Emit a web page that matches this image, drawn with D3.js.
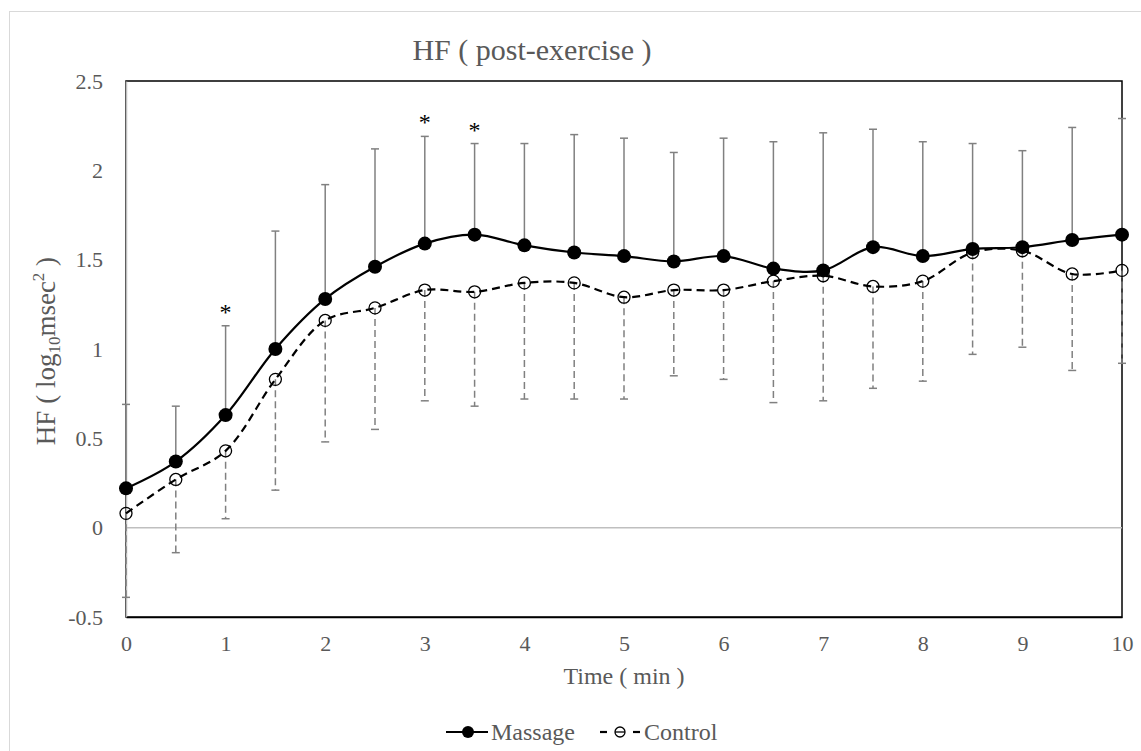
<!DOCTYPE html>
<html>
<head>
<meta charset="utf-8">
<script src="https://cdn.jsdelivr.net/npm/d3@7"></script>
<style>
  body { margin: 0; background: #fff; }
  text { font-family: "Liberation Serif", "DejaVu Serif", serif; }
</style>
</head>
<body>
<svg id="chart"></svg>
<script>
// time points (min)
var times = [0, 0.5, 1, 1.5, 2, 2.5, 3, 3.5, 4, 4.5, 5, 5.5, 6, 6.5, 7, 7.5, 8, 8.5, 9, 9.5, 10]

// Massage mean and mean + SD
var massage = [0.22, 0.37, 0.63, 1.00, 1.28, 1.46, 1.59, 1.64, 1.58, 1.54, 1.52, 1.49, 1.52, 1.45, 1.44, 1.57, 1.52, 1.56, 1.57, 1.61, 1.64]
var massageUpper = [0.69, 0.68, 1.13, 1.66, 1.92, 2.12, 2.19, 2.15, 2.15, 2.20, 2.18, 2.10, 2.18, 2.16, 2.21, 2.23, 2.16, 2.15, 2.11, 2.24, 2.29]

// Control mean and mean - SD
var control = [0.08, 0.27, 0.43, 0.83, 1.16, 1.23, 1.33, 1.32, 1.37, 1.37, 1.29, 1.33, 1.33, 1.38, 1.41, 1.35, 1.38, 1.54, 1.55, 1.42, 1.44]
var controlLower = [-0.39, -0.14, 0.05, 0.21, 0.48, 0.55, 0.71, 0.68, 0.72, 0.72, 0.72, 0.85, 0.83, 0.70, 0.71, 0.78, 0.82, 0.97, 1.01, 0.88, 0.92]

// significance marks
var starTimes = [1, 3, 3.5]

var xTicks = [0, 1, 2, 3, 4, 5, 6, 7, 8, 9, 10]
var yTicks = [-0.5, 0, 0.5, 1, 1.5, 2, 2.5]

var width = 1141,
    height = 751,
    textGray = "#595959",
    barGray = "#808080"

var svg = d3.select("#chart")
  .attr("width", width)
  .attr("height", height)

var x = d3.scaleLinear().domain([0, 10]).range([126, 1122])
var y = d3.scaleLinear().domain([-0.5, 2.5]).range([617, 81])

// outer chart border
svg.append("rect")
  .attr("x", 9.5).attr("y", 11.5)
  .attr("width", width).attr("height", height)
  .attr("fill", "none")
  .attr("stroke", "#d9d9d9")

// title
svg.append("text")
  .attr("x", 532).attr("y", 60)
  .attr("text-anchor", "middle")
  .attr("font-size", 30)
  .attr("fill", textGray)
  .text("HF ( post-exercise )")

// plot frame
svg.append("rect")
  .attr("x", x(0)).attr("y", y(2.5))
  .attr("width", x(10) - x(0)).attr("height", y(-0.5) - y(2.5))
  .attr("fill", "none")
  .attr("stroke", "#000")
  .attr("stroke-width", 1.5)

// zero line
svg.append("line")
  .attr("x1", x(0)).attr("x2", x(10))
  .attr("y1", y(0)).attr("y2", y(0))
  .attr("stroke", "#bfbfbf")
  .attr("stroke-width", 1.5)

// axes
var yAxis = svg.append("g")
  .attr("transform", `translate(${x(0)},0)`)
  .call(d3.axisLeft(y).tickValues(yTicks).tickSize(0).tickPadding(23).tickFormat(d => String(d)))
yAxis.select(".domain").attr("stroke", "#bfbfbf").attr("stroke-width", 1.5)

var xAxis = svg.append("g")
  .attr("transform", `translate(0,${y(-0.5)})`)
  .call(d3.axisBottom(x).tickValues(xTicks).tickSize(0).tickPadding(18))
xAxis.select(".domain").attr("stroke", "#000").attr("stroke-width", 1.5)

svg.selectAll("g").attr("font-family", null)
svg.selectAll(".tick text")
  .attr("font-size", 22)
  .attr("fill", textGray)

// axis titles
svg.append("text")
  .attr("x", 624).attr("y", 684)
  .attr("text-anchor", "middle")
  .attr("font-size", 24)
  .attr("fill", textGray)
  .text("Time ( min )")

var yTitle = svg.append("text")
  .attr("transform", "translate(55,351) rotate(-90)")
  .attr("text-anchor", "middle")
  .attr("font-size", 27)
  .attr("fill", textGray)
yTitle.append("tspan").text("HF ( log")
yTitle.append("tspan").attr("font-size", 17).attr("dy", 5).text("10")
yTitle.append("tspan").attr("dy", -5).text("msec")
yTitle.append("tspan").attr("font-size", 17).attr("dy", -11).text("2")
yTitle.append("tspan").attr("dy", 11).text(" )")

var plot = svg.append("g")

// error bars
var mBars = plot.selectAll(".mbar").data(times).enter().append("g").attr("class", "mbar")
mBars.append("line")
  .attr("x1", d => x(d)).attr("x2", d => x(d))
  .attr("y1", (d, i) => y(massage[i])).attr("y2", (d, i) => y(massageUpper[i]))
  .attr("stroke", barGray).attr("stroke-width", 1.5)
mBars.append("line")
  .attr("x1", d => x(d) - 4).attr("x2", d => x(d) + 4)
  .attr("y1", (d, i) => y(massageUpper[i])).attr("y2", (d, i) => y(massageUpper[i]))
  .attr("stroke", barGray).attr("stroke-width", 1.5)

var cBars = plot.selectAll(".cbar").data(times).enter().append("g").attr("class", "cbar")
cBars.append("line")
  .attr("x1", d => x(d)).attr("x2", d => x(d))
  .attr("y1", (d, i) => y(control[i])).attr("y2", (d, i) => y(controlLower[i]))
  .attr("stroke", barGray).attr("stroke-width", 1.5)
  .attr("stroke-dasharray", "7,4")
cBars.append("line")
  .attr("x1", d => x(d) - 4).attr("x2", d => x(d) + 4)
  .attr("y1", (d, i) => y(controlLower[i])).attr("y2", (d, i) => y(controlLower[i]))
  .attr("stroke", barGray).attr("stroke-width", 1.5)

// lines
var line = d3.line()
  .x(d => x(d[0]))
  .y(d => y(d[1]))
  .curve(d3.curveCatmullRom.alpha(0.5))

plot.append("path")
  .datum(times.map((t, i) => [t, control[i]]))
  .attr("d", line)
  .attr("fill", "none")
  .attr("stroke", "#000")
  .attr("stroke-width", 2.2)
  .attr("stroke-dasharray", "8,5")

plot.append("path")
  .datum(times.map((t, i) => [t, massage[i]]))
  .attr("d", line)
  .attr("fill", "none")
  .attr("stroke", "#000")
  .attr("stroke-width", 2.2)

// markers
plot.selectAll(".cdot").data(times).enter().append("circle")
  .attr("class", "cdot")
  .attr("cx", d => x(d)).attr("cy", (d, i) => y(control[i]))
  .attr("r", 6)
  .attr("fill", "none")
  .attr("stroke", "#000")
  .attr("stroke-width", 1.3)

plot.selectAll(".mdot").data(times).enter().append("circle")
  .attr("class", "mdot")
  .attr("cx", d => x(d)).attr("cy", (d, i) => y(massage[i]))
  .attr("r", 7)
  .attr("fill", "#000")

// asterisks
plot.selectAll(".star").data(starTimes).enter().append("text")
  .attr("class", "star")
  .attr("x", d => x(d))
  .attr("y", d => y(massageUpper[times.indexOf(d)]) - 6)
  .attr("text-anchor", "middle")
  .attr("font-size", 24)
  .attr("fill", "#000")
  .text("*")

// legend
var legend = svg.append("g").attr("transform", "translate(0,732)")
legend.append("line")
  .attr("x1", 446).attr("x2", 488).attr("y1", 0).attr("y2", 0)
  .attr("stroke", "#000").attr("stroke-width", 2.2)
legend.append("circle").attr("cx", 468).attr("cy", 0).attr("r", 6).attr("fill", "#000")
legend.append("text")
  .attr("x", 491).attr("y", 8)
  .attr("font-size", 24).attr("fill", textGray)
  .text("Massage")

legend.append("line")
  .attr("x1", 600).attr("x2", 607).attr("y1", 0).attr("y2", 0)
  .attr("stroke", "#000").attr("stroke-width", 2.2)
legend.append("line")
  .attr("x1", 633).attr("x2", 640).attr("y1", 0).attr("y2", 0)
  .attr("stroke", "#000").attr("stroke-width", 2.2)
legend.append("circle").attr("cx", 620).attr("cy", 0).attr("r", 5)
  .attr("fill", "#fff").attr("stroke", "#000").attr("stroke-width", 1.3)
legend.append("line")
  .attr("x1", 615).attr("x2", 625).attr("y1", 0).attr("y2", 0)
  .attr("stroke", "#000").attr("stroke-width", 1.3)
legend.append("text")
  .attr("x", 644).attr("y", 8)
  .attr("font-size", 24).attr("fill", textGray)
  .text("Control")
</script>
</body>
</html>
